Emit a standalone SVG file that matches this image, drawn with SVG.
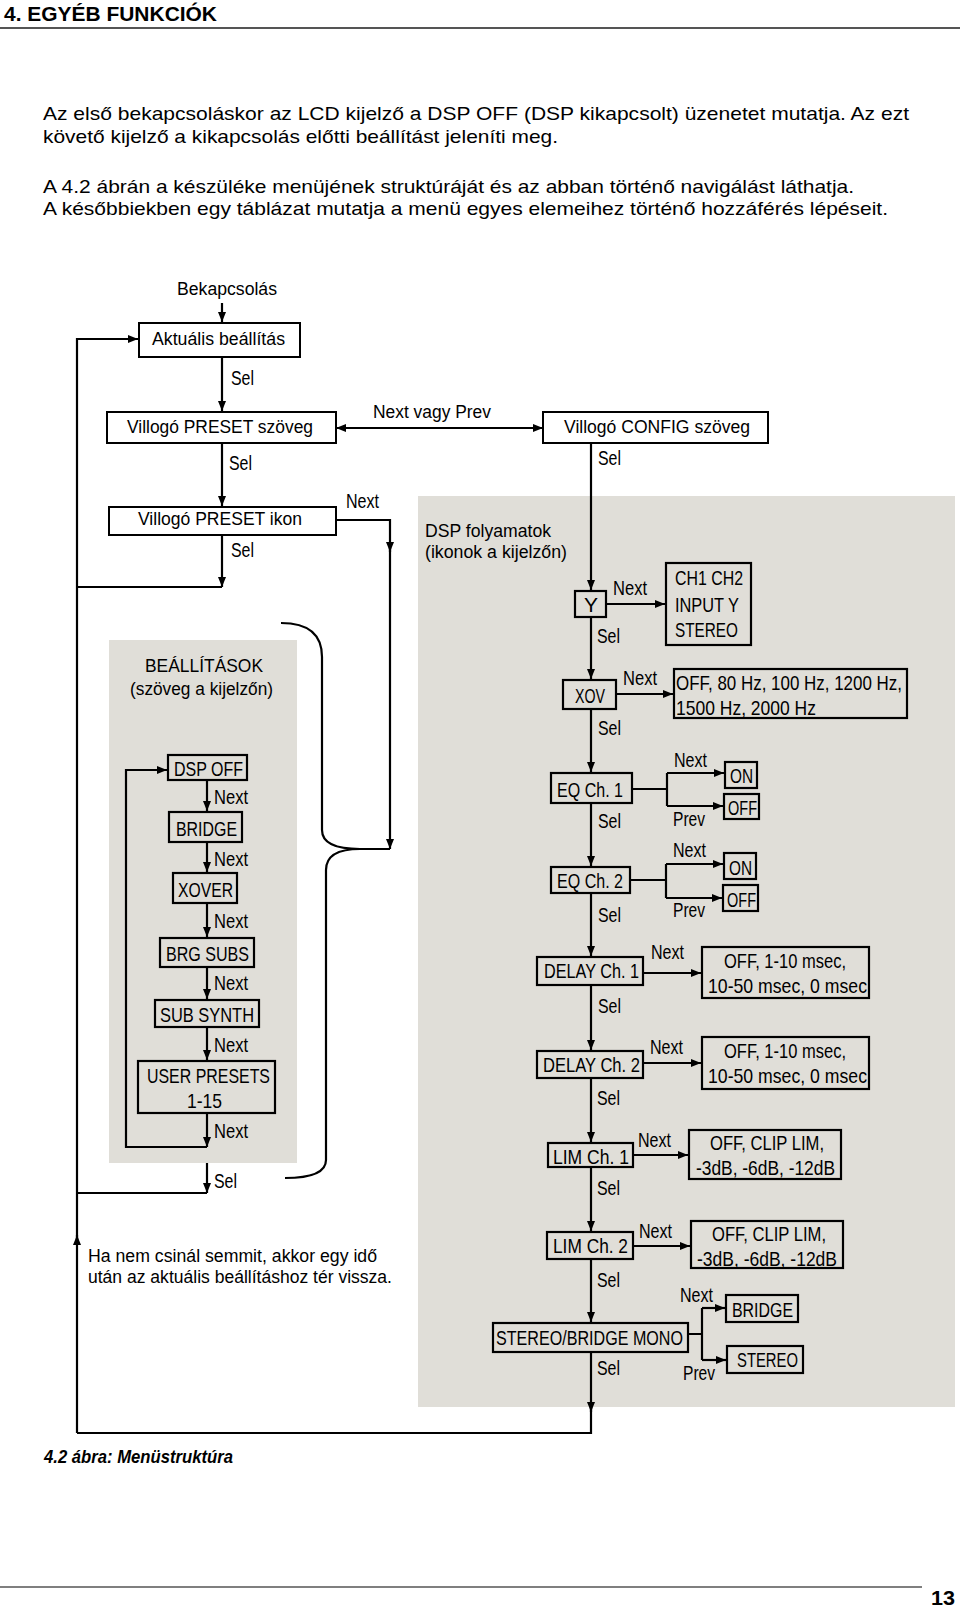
<svg xmlns="http://www.w3.org/2000/svg" width="960" height="1607" viewBox="0 0 960 1607">
<style>
.r{font-family:"Liberation Sans",Arial,sans-serif;font-size:17.5px;fill:#000}
.p{font-family:"Liberation Sans",Arial,sans-serif;font-size:18.5px;fill:#000}
.c{font-family:"Liberation Sans Narrow","Liberation Sans",Arial,sans-serif;font-size:20px;fill:#000}
.t{font-family:"Liberation Sans Narrow","Liberation Sans",Arial,sans-serif;font-size:21px;fill:#000}
.bx{fill:none;stroke:#000;stroke-width:2.2}
.bw{fill:#fff;stroke:#000;stroke-width:2}
.ln{fill:none;stroke:#000;stroke-width:2.2}
.a{marker-end:url(#ah)}
.panel{fill:#e0ded8}
</style>
<defs>
<marker id="ah" viewBox="0 0 10 8" refX="10" refY="4" markerWidth="10" markerHeight="8" markerUnits="userSpaceOnUse" orient="auto-start-reverse"><path d="M0,0 L10,4 L0,8 z" fill="#000"/></marker>
</defs>
<rect width="960" height="1607" fill="#fff"/>
<g id="header">
<text x="4" y="21" font-family="'Liberation Sans Narrow','Liberation Sans',Arial,sans-serif" font-size="21" font-weight="bold" textLength="213" lengthAdjust="spacingAndGlyphs">4. EGYÉB FUNKCIÓK</text>
<line x1="0" y1="28" x2="960" y2="28" stroke="#555" stroke-width="2"/>
</g>
<g id="intro">
<text class="p" x="43" y="120" textLength="866" lengthAdjust="spacingAndGlyphs">Az első bekapcsoláskor az LCD kijelző a DSP OFF (DSP kikapcsolt) üzenetet mutatja. Az ezt</text>
<text class="p" x="43" y="143" textLength="515" lengthAdjust="spacingAndGlyphs">követő kijelző a kikapcsolás előtti beállítást jeleníti meg.</text>
<text class="p" x="43" y="193" textLength="811" lengthAdjust="spacingAndGlyphs">A 4.2 ábrán a készüléke menüjének struktúráját és az abban történő navigálást láthatja.</text>
<text class="p" x="43" y="215" textLength="845" lengthAdjust="spacingAndGlyphs">A későbbiekben egy táblázat mutatja a menü egyes elemeihez történő hozzáférés lépéseit.</text>
</g>
<g id="panels">
<rect class="panel" x="109" y="640" width="188" height="523"/>
<rect class="panel" x="418" y="496" width="537" height="911"/>
</g>
<g id="connectors">
<path class="ln a" d="M222,303 V322"/>
<path class="ln a" d="M222,357 V411"/>
<path class="ln a" d="M222,443 V506"/>
<path class="ln a" d="M222,535 V587"/>
<path class="ln" d="M222,587 H77"/>
<path class="ln a" d="M77,1433 V1235"/>
<path class="ln a" d="M77,1240 V339 H138"/>
<path class="ln" d="M591,1405 V1433 H77"/>
<path class="ln" d="M336,428 H543" style="marker-start:url(#ah);marker-end:url(#ah)"/>
<path class="ln a" d="M336,520 H390 V552"/>
<path class="ln a" d="M390,548 V849"/>
<path class="ln" d="M390,849 H357"/>
<path class="ln" d="M281,623 C306,623 322,633 322,657 V830 C322,843 336,849 360,849"/>
<path class="ln" d="M360,849 C340,849 326,855 326,870 V1160 C326,1172 312,1178 285,1178"/>
<path class="ln a" d="M591,443 V590"/>
<path class="ln a" d="M591,617 V679"/>
<path class="ln a" d="M591,709 V772"/>
<path class="ln a" d="M591,803 V866"/>
<path class="ln a" d="M591,893 V956"/>
<path class="ln a" d="M591,985 V1050"/>
<path class="ln a" d="M591,1078 V1142"/>
<path class="ln a" d="M591,1167 V1231"/>
<path class="ln a" d="M591,1259 V1322"/>
<path class="ln a" d="M591,1352 V1412"/>
<path class="ln a" d="M606,604 H665"/>
<path class="ln a" d="M616,694 H673"/>
<path class="ln" d="M632,789 H667 M667,773 V806"/>
<path class="ln a" d="M667,773 H724"/>
<path class="ln a" d="M667,806 H723"/>
<path class="ln" d="M630,880 H666 M666,864 V898"/>
<path class="ln a" d="M666,864 H723"/>
<path class="ln a" d="M666,898 H722"/>
<path class="ln a" d="M643,973 H701"/>
<path class="ln a" d="M643,1063 H701"/>
<path class="ln a" d="M633,1155 H688"/>
<path class="ln a" d="M633,1246 H690"/>
<path class="ln" d="M688,1334 H702 M702,1308 V1360"/>
<path class="ln a" d="M702,1308 H725"/>
<path class="ln a" d="M702,1360 H726"/>
<path class="ln a" d="M207,780 V811"/>
<path class="ln a" d="M207,842 V872"/>
<path class="ln a" d="M207,903 V937"/>
<path class="ln a" d="M207,967 V999"/>
<path class="ln a" d="M207,1027 V1060"/>
<path class="ln a" d="M207,1113 V1147"/>
<path class="ln a" d="M207,1147 H126 V770 H167"/>
<path class="ln a" d="M207,1163 V1193"/>
<path class="ln" d="M207,1193 H77"/>
</g>
<g id="labels">
<text class="c" x="231" y="385" textLength="23" lengthAdjust="spacingAndGlyphs">Sel</text>
<text class="c" x="229" y="470" textLength="23" lengthAdjust="spacingAndGlyphs">Sel</text>
<text class="c" x="231" y="557" textLength="23" lengthAdjust="spacingAndGlyphs">Sel</text>
<text class="c" x="346" y="508" textLength="33" lengthAdjust="spacingAndGlyphs">Next</text>
<text class="r" x="373" y="418" textLength="118" lengthAdjust="spacingAndGlyphs">Next vagy Prev</text>
<text class="c" x="598" y="465" textLength="23" lengthAdjust="spacingAndGlyphs">Sel</text>
<text class="c" x="613" y="595" textLength="34" lengthAdjust="spacingAndGlyphs">Next</text>
<text class="c" x="597" y="643" textLength="23" lengthAdjust="spacingAndGlyphs">Sel</text>
<text class="c" x="623" y="685" textLength="34" lengthAdjust="spacingAndGlyphs">Next</text>
<text class="c" x="598" y="735" textLength="23" lengthAdjust="spacingAndGlyphs">Sel</text>
<text class="c" x="674" y="767" textLength="33" lengthAdjust="spacingAndGlyphs">Next</text>
<text class="c" x="673" y="826" textLength="32" lengthAdjust="spacingAndGlyphs">Prev</text>
<text class="c" x="598" y="828" textLength="23" lengthAdjust="spacingAndGlyphs">Sel</text>
<text class="c" x="673" y="857" textLength="33" lengthAdjust="spacingAndGlyphs">Next</text>
<text class="c" x="673" y="917" textLength="32" lengthAdjust="spacingAndGlyphs">Prev</text>
<text class="c" x="598" y="922" textLength="23" lengthAdjust="spacingAndGlyphs">Sel</text>
<text class="c" x="651" y="959" textLength="33" lengthAdjust="spacingAndGlyphs">Next</text>
<text class="c" x="598" y="1013" textLength="23" lengthAdjust="spacingAndGlyphs">Sel</text>
<text class="c" x="650" y="1054" textLength="33" lengthAdjust="spacingAndGlyphs">Next</text>
<text class="c" x="597" y="1105" textLength="23" lengthAdjust="spacingAndGlyphs">Sel</text>
<text class="c" x="638" y="1147" textLength="33" lengthAdjust="spacingAndGlyphs">Next</text>
<text class="c" x="597" y="1195" textLength="23" lengthAdjust="spacingAndGlyphs">Sel</text>
<text class="c" x="639" y="1238" textLength="33" lengthAdjust="spacingAndGlyphs">Next</text>
<text class="c" x="597" y="1287" textLength="23" lengthAdjust="spacingAndGlyphs">Sel</text>
<text class="c" x="680" y="1302" textLength="33" lengthAdjust="spacingAndGlyphs">Next</text>
<text class="c" x="683" y="1380" textLength="32" lengthAdjust="spacingAndGlyphs">Prev</text>
<text class="c" x="597" y="1375" textLength="23" lengthAdjust="spacingAndGlyphs">Sel</text>
<text class="c" x="214" y="804" textLength="34" lengthAdjust="spacingAndGlyphs">Next</text>
<text class="c" x="214" y="866" textLength="34" lengthAdjust="spacingAndGlyphs">Next</text>
<text class="c" x="214" y="928" textLength="34" lengthAdjust="spacingAndGlyphs">Next</text>
<text class="c" x="214" y="990" textLength="34" lengthAdjust="spacingAndGlyphs">Next</text>
<text class="c" x="214" y="1052" textLength="34" lengthAdjust="spacingAndGlyphs">Next</text>
<text class="c" x="214" y="1138" textLength="34" lengthAdjust="spacingAndGlyphs">Next</text>
<text class="c" x="214" y="1188" textLength="23" lengthAdjust="spacingAndGlyphs">Sel</text>
</g>
<g id="bekapcsolas"><text class="r" x="177" y="295" textLength="100" lengthAdjust="spacingAndGlyphs">Bekapcsolás</text></g>
<g id="aktualis"><rect class="bw" x="139" y="323" width="161" height="34"/><text class="r" x="152" y="345" textLength="133" lengthAdjust="spacingAndGlyphs">Aktuális beállítás</text></g>
<g id="preset-szoveg"><rect class="bw" x="107" y="412" width="229" height="31"/><text class="r" x="127" y="433" textLength="186" lengthAdjust="spacingAndGlyphs">Villogó PRESET szöveg</text></g>
<g id="preset-ikon"><rect class="bw" x="109" y="507" width="227" height="28"/><text class="r" x="138" y="525" textLength="164" lengthAdjust="spacingAndGlyphs">Villogó PRESET ikon</text></g>
<g id="config"><rect class="bw" x="543" y="412" width="225" height="31" stroke-width="2.6"/><text class="r" x="564" y="433" textLength="186" lengthAdjust="spacingAndGlyphs">Villogó CONFIG szöveg</text></g>
<g id="dsp-title"><text class="r" x="425" y="537" textLength="126" lengthAdjust="spacingAndGlyphs">DSP folyamatok</text><text class="r" x="425" y="558" textLength="142" lengthAdjust="spacingAndGlyphs">(ikonok a kijelzőn)</text></g>
<g id="beall-title"><text class="r" x="145" y="672" textLength="118" lengthAdjust="spacingAndGlyphs">BEÁLLÍTÁSOK</text><text class="r" x="130" y="695" textLength="143" lengthAdjust="spacingAndGlyphs">(szöveg a kijelzőn)</text></g>
<g id="note"><text class="r" x="88" y="1262" textLength="289" lengthAdjust="spacingAndGlyphs">Ha nem csinál semmit, akkor egy idő</text><text class="r" x="88" y="1283" textLength="304" lengthAdjust="spacingAndGlyphs">után az aktuális beállításhoz tér vissza.</text></g>
<g id="dspoff"><rect class="bx" x="168" y="755" width="79" height="25"/><text class="t" x="174" y="776" textLength="69" lengthAdjust="spacingAndGlyphs">DSP OFF</text></g>
<g id="bridge-l"><rect class="bx" x="169" y="812" width="73" height="30"/><text class="t" x="176" y="836" textLength="61" lengthAdjust="spacingAndGlyphs">BRIDGE</text></g>
<g id="xover"><rect class="bx" x="173" y="873" width="64" height="30"/><text class="t" x="178" y="897" textLength="55" lengthAdjust="spacingAndGlyphs">XOVER</text></g>
<g id="brgsubs"><rect class="bx" x="160" y="938" width="94" height="29"/><text class="t" x="166" y="961" textLength="83" lengthAdjust="spacingAndGlyphs">BRG SUBS</text></g>
<g id="subsynth"><rect class="bx" x="155" y="1000" width="104" height="27"/><text class="t" x="160" y="1022" textLength="94" lengthAdjust="spacingAndGlyphs">SUB SYNTH</text></g>
<g id="userpresets"><rect class="bx" x="138" y="1061" width="137" height="52"/><text class="t" x="147" y="1083" textLength="123" lengthAdjust="spacingAndGlyphs">USER PRESETS</text><text class="t" x="187" y="1108" textLength="35" lengthAdjust="spacingAndGlyphs">1-15</text></g>
<g id="y"><rect class="bx" x="575" y="591" width="31" height="26"/><text class="t" x="591" y="612" text-anchor="middle">Y</text></g>
<g id="ch"><rect class="bx" x="666" y="563" width="85" height="82"/><text class="t" x="675" y="585" textLength="68" lengthAdjust="spacingAndGlyphs">CH1 CH2</text><text class="t" x="675" y="612" textLength="64" lengthAdjust="spacingAndGlyphs">INPUT Y</text><text class="t" x="675" y="637" textLength="63" lengthAdjust="spacingAndGlyphs">STEREO</text></g>
<g id="xov"><rect class="bx" x="563" y="680" width="53" height="29"/><text class="t" x="575" y="703" textLength="30" lengthAdjust="spacingAndGlyphs">XOV</text></g>
<g id="xov-vals"><rect class="bx" x="674" y="669" width="233" height="49"/><text class="t" x="676" y="690" textLength="226" lengthAdjust="spacingAndGlyphs">OFF, 80 Hz, 100 Hz, 1200 Hz,</text><text class="t" x="676" y="715" textLength="140" lengthAdjust="spacingAndGlyphs">1500 Hz, 2000 Hz</text></g>
<g id="eq1"><rect class="bx" x="551" y="773" width="81" height="30"/><text class="t" x="557" y="797" textLength="66" lengthAdjust="spacingAndGlyphs">EQ Ch. 1</text></g>
<g id="eq1-on"><rect class="bx" x="725" y="762" width="32" height="26"/><text class="t" x="730" y="783" textLength="23" lengthAdjust="spacingAndGlyphs">ON</text></g>
<g id="eq1-off"><rect class="bx" x="724" y="794" width="35" height="25"/><text class="t" x="728" y="815" textLength="29" lengthAdjust="spacingAndGlyphs">OFF</text></g>
<g id="eq2"><rect class="bx" x="551" y="867" width="79" height="26"/><text class="t" x="557" y="888" textLength="66" lengthAdjust="spacingAndGlyphs">EQ Ch. 2</text></g>
<g id="eq2-on"><rect class="bx" x="724" y="853" width="32" height="26"/><text class="t" x="729" y="875" textLength="23" lengthAdjust="spacingAndGlyphs">ON</text></g>
<g id="eq2-off"><rect class="bx" x="723" y="885" width="35" height="26"/><text class="t" x="727" y="907" textLength="29" lengthAdjust="spacingAndGlyphs">OFF</text></g>
<g id="delay1"><rect class="bx" x="537" y="957" width="106" height="28"/><text class="t" x="544" y="978" textLength="95" lengthAdjust="spacingAndGlyphs">DELAY Ch. 1</text></g>
<g id="delay1-vals"><rect class="bx" x="702" y="947" width="167" height="51"/><text class="t" x="724" y="968" textLength="122" lengthAdjust="spacingAndGlyphs">OFF, 1-10 msec,</text><text class="t" x="708" y="993" textLength="159" lengthAdjust="spacingAndGlyphs">10-50 msec, 0 msec</text></g>
<g id="delay2"><rect class="bx" x="537" y="1051" width="106" height="27"/><text class="t" x="543" y="1072" textLength="97" lengthAdjust="spacingAndGlyphs">DELAY Ch. 2</text></g>
<g id="delay2-vals"><rect class="bx" x="702" y="1037" width="167" height="52"/><text class="t" x="724" y="1058" textLength="122" lengthAdjust="spacingAndGlyphs">OFF, 1-10 msec,</text><text class="t" x="708" y="1083" textLength="159" lengthAdjust="spacingAndGlyphs">10-50 msec, 0 msec</text></g>
<g id="lim1"><rect class="bx" x="548" y="1143" width="85" height="24"/><text class="t" x="553" y="1164" textLength="76" lengthAdjust="spacingAndGlyphs">LIM Ch. 1</text></g>
<g id="lim1-vals"><rect class="bx" x="689" y="1130" width="152" height="49"/><text class="t" x="710" y="1150" textLength="114" lengthAdjust="spacingAndGlyphs">OFF, CLIP LIM,</text><text class="t" x="696" y="1175" textLength="139" lengthAdjust="spacingAndGlyphs">-3dB, -6dB, -12dB</text></g>
<g id="lim2"><rect class="bx" x="547" y="1232" width="86" height="27"/><text class="t" x="553" y="1253" textLength="75" lengthAdjust="spacingAndGlyphs">LIM Ch. 2</text></g>
<g id="lim2-vals"><rect class="bx" x="691" y="1221" width="152" height="47"/><text class="t" x="712" y="1241" textLength="114" lengthAdjust="spacingAndGlyphs">OFF, CLIP LIM,</text><text class="t" x="697" y="1266" textLength="140" lengthAdjust="spacingAndGlyphs">-3dB, -6dB, -12dB</text></g>
<g id="stereobridge"><rect class="bx" x="493" y="1323" width="195" height="29"/><text class="t" x="496" y="1345" textLength="187" lengthAdjust="spacingAndGlyphs">STEREO/BRIDGE MONO</text></g>
<g id="bridge-r"><rect class="bx" x="726" y="1295" width="72" height="27"/><text class="t" x="732" y="1317" textLength="61" lengthAdjust="spacingAndGlyphs">BRIDGE</text></g>
<g id="stereo-r"><rect class="bx" x="727" y="1346" width="76" height="27"/><text class="t" x="737" y="1367" textLength="61" lengthAdjust="spacingAndGlyphs">STEREO</text></g>
<g id="footer">
<text x="44" y="1463" font-family="'Liberation Sans Narrow','Liberation Sans',Arial,sans-serif" font-size="17.5" font-weight="bold" font-style="italic" textLength="189" lengthAdjust="spacingAndGlyphs">4.2 ábra: Menüstruktúra</text>
<line x1="0" y1="1587" x2="922" y2="1587" stroke="#555" stroke-width="1.5"/>
<text x="931" y="1605" font-family="'Liberation Sans Narrow','Liberation Sans',Arial,sans-serif" font-size="21" font-weight="bold" textLength="24" lengthAdjust="spacingAndGlyphs">13</text>
</g>
</svg>
